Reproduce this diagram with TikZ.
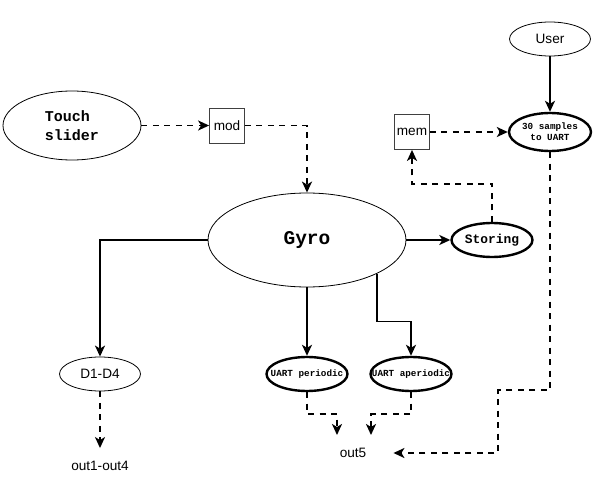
\documentclass[tikz,border=0pt]{standalone}
\usepackage{fontspec}
\setmainfont{Liberation Sans}
\setmonofont{Liberation Mono}
\usetikzlibrary{arrows.meta}
\usetikzlibrary{shapes.geometric}

\newcommand{\narrowtext}[1]{\makebox[0pt]{#1}}

\begin{document}
\begin{tikzpicture}[
                        node distance=100pt,
                        plainell/.style={ellipse, draw, line width=0.8pt, inner sep=0pt, minimum width=81pt, minimum height=34pt, font=\fontsize{13.6}{16}\selectfont},
                        boldell/.style={ellipse, draw, line width=2.4pt, inner sep=0pt, minimum width=81pt, minimum height=34pt, font=\ttfamily\bfseries\fontsize{9.3}{11}\selectfont},
                        store/.style={rectangle, draw=black!75, line width=0.8pt, minimum size=35pt, inner sep=0pt, font=\fontsize{13.6}{16}\selectfont},
                        outtext/.style={inner sep=2pt, font=\fontsize{13.6}{16}\selectfont},
                        link/.style={-{Stealth[length=11pt,width=10pt,inset=3pt]}, line width=1.9pt},
                        dlink/.style={link, dash pattern=on 6pt off 5.5pt}
                    ]
                    \useasboundingbox (0,0) rectangle (595pt,-487pt);
                    % Blocks
                    \node [plainell, minimum width=198pt, minimum height=94pt, font=\ttfamily\bfseries\fontsize{19.5}{22}\selectfont] (gyro) at (307pt,-240pt) {Gyro};
                    \node [boldell, font=\ttfamily\bfseries\fontsize{12.9}{15}\selectfont, right of=gyro, node distance=185pt] (storing) {Storing};
                    \node [store, above of=gyro, node distance=114.5pt, xshift=-80pt] (mod) {mod};
                    \node [plainell, minimum width=138pt, minimum height=69pt, align=left, font=\ttfamily\bfseries\fontsize{15}{19}\selectfont, left of=mod, node distance=155pt] (touch) {Touch\\slider};
                    \node [store, above of=storing, node distance=108pt, xshift=-80pt] (mem) {mem};
                    \node [boldell, minimum width=82pt, minimum height=38pt, align=center, right of=mem, node distance=138pt] (samples) {30 samples\\to UART};
                    \node [plainell, above of=samples, node distance=93pt] (user) {User};
                    \node [boldell, below of=gyro, node distance=134pt] (periodic) {\narrowtext{UART periodic}};
                    \node [boldell, right of=periodic, node distance=104pt] (aperiodic) {\narrowtext{UART aperiodic}};
                    \node [plainell, left of=periodic, node distance=207pt] (d1d4) {D1-D4};
                    \node [outtext, below of=d1d4, node distance=92pt] (outs) {out1-out4};
                    \node [outtext, below of=periodic, node distance=79pt, xshift=46pt] (out5) {out5};
                    \coordinate (in5a) at ([xshift=-16pt,yshift=18pt]out5.center);
                    \coordinate (in5b) at ([xshift=18pt,yshift=18pt]out5.center);

                    % Connections
                    \draw [dlink] (touch) -- (mod);
                    \draw [dlink] (mod) -| (gyro);
                    \draw [link] (gyro) -- (storing);
                    \draw [dlink] (storing.north) -- ++(0,38pt) -| (mem.south);
                    \draw [dlink] (mem) -- (samples);
                    \draw [link] (user) -- (samples);
                    \draw [link] (gyro.west) -| (d1d4.north);
                    \draw [link] (gyro) -- (periodic);
                    \draw [link] (gyro.south east) -- ++(0,-48pt) -| (aperiodic.north);
                    \draw [dlink, shorten >=11pt] (d1d4) -- (outs);
                    \draw [dlink] (periodic.south) -- ++(0,-22pt) -| (in5a);
                    \draw [dlink] (aperiodic.south) -- ++(0,-22pt) -| (in5b);
                    \draw [dlink, shorten >=25pt] (samples.south) -- ++(0,-238pt) -- ++(-52pt,0) |- (out5.east);
                \end{tikzpicture}
\end{document}
